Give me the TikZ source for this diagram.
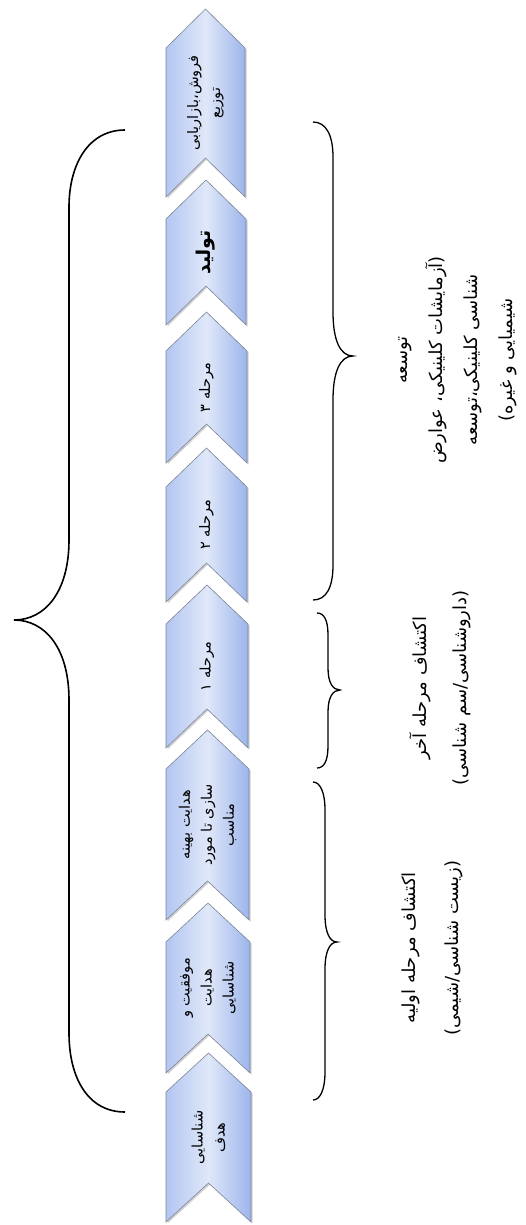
\documentclass[tikz,border=0pt]{standalone}
\usepackage{fontspec}
\newfontfamily\arabicfont[Script=Arabic]{DejaVu Sans}
\TeXXeTstate=1
\newcommand\fatxt[1]{\beginR#1\endR}
\definecolor{chevL}{HTML}{B3C6F2}
\definecolor{chevM}{HTML}{E0E8F9}
\definecolor{chevR}{HTML}{9CB5EB}
\definecolor{chevLine}{HTML}{7D8599}
\tikzset{
  chevbody/.style={draw=chevLine, line width=0.6pt, left color=chevL, right color=chevR, middle color=chevM},
  chevshade/.style={fill=black, opacity=0.18},
  chevtext/.style={rotate=90, align=center, font=\arabicfont\fontsize{14.5}{22}\selectfont, inner sep=0pt},
  labeltext/.style={rotate=90, align=center, font=\arabicfont\fontsize{18}{#1}\selectfont, inner sep=0pt},
  bracestyle/.style={draw=black, line width=1.3pt},
}
\newcommand\drawchev[5]{%
  \pgfmathsetmacro\chevcx{(166+#4)/2}
  \fill[chevshade] (167.5,#3+1.5) -- (167.5,#2+40.5) -- (\chevcx+1.5,#2+1.5) -- (#4+1.5,#2+40.5) -- (#4+1.5,#3+1.5) -- (\chevcx+1.5,#3-37.5) -- cycle;
  \path[chevbody] (166,#3) -- (166,#2+39) -- (\chevcx,#2) -- (#4,#2+39) -- (#4,#3) -- (\chevcx,#3-39) -- cycle;
  \node[chevtext] (#1) at (\chevcx,{(#2+#3)/2}) {#5};
}
\begin{document}
\begin{tikzpicture}[x=1pt,y=-1pt]
\useasboundingbox (0,0) rectangle (525,1225);

% chevrons (top of page = end of the process)
\drawchev{c1}{9}{197}{245}{\fatxt{فروش،بازاریابی}\\\fatxt{توزیع}}
\drawchev{c2}{180}{325}{246}{\bfseries\fontsize{19}{22}\selectfont\fatxt{تولید}}
\drawchev{c3}{312}{463}{247}{\fatxt{مرحله ۳}}
\drawchev{c4}{448}{602}{247}{\fatxt{مرحله ۲}}
\drawchev{c5}{585}{748}{248}{\fatxt{مرحله ۱}}
\drawchev{c6}{730}{920}{249}{\fatxt{هدایت بهینه}\\\fatxt{سازی تا مورد}\\\fatxt{مناسب}}
\drawchev{c7}{903}{1073}{250}{\fatxt{موفقیت و}\\\fatxt{هدایت}\\\fatxt{شناسایی}}
\drawchev{c8}{1053}{1222}{251}{\fatxt{شناسایی}\\\fatxt{هدف}}

% big left brace
\draw[bracestyle, line width=1.6pt] (125,130) .. controls (88,130) and (69,165) .. (69,207) -- (69,540)
  .. controls (69,592) and (45,620) .. (14,620)
  .. controls (45,620) and (69,648) .. (69,700) -- (69,1033)
  .. controls (69,1078) and (88,1112) .. (125,1112);

% right braces
\draw[bracestyle] (313,122) .. controls (326,122) and (333,135) .. (333,157) -- (333,312)
  .. controls (333,340) and (340,356) .. (353,356)
  .. controls (340,356) and (333,372) .. (333,400) -- (333,565)
  .. controls (333,588) and (326,600) .. (313,600);
\draw[bracestyle] (317,613) .. controls (324,613) and (328,620) .. (328,635) -- (328,668)
  .. controls (328,683) and (333,690) .. (340,690)
  .. controls (333,690) and (328,697) .. (328,712) -- (328,746)
  .. controls (328,761) and (324,768) .. (317,768);
\draw[bracestyle] (313,782) .. controls (320,782) and (325,792) .. (325,810) -- (325,915)
  .. controls (325,933) and (330,942) .. (337,942)
  .. controls (330,942) and (325,951) .. (325,969) -- (325,1072)
  .. controls (325,1090) and (320,1100) .. (313,1100);

% labels
\node[labeltext=35] (dev) at (458,360) {\fatxt{توسعه}\\\fatxt{(آزمایشات کلینیکی، عوارض}\\\fatxt{شناسی کلینیکی،توسعه}\\\fatxt{شیمیایی و غیره)}};
\node[labeltext=40] (late) at (440,688) {\fatxt{اکتشاف مرحله آخر}\\\fatxt{(داروشناسی/سم شناسی)}};
\node[labeltext=43] (early) at (432,948) {\fatxt{اکتشاف مرحله اولیه}\\\fatxt{(زیست شناسی/شیمی)}};
\end{tikzpicture}
\end{document}
